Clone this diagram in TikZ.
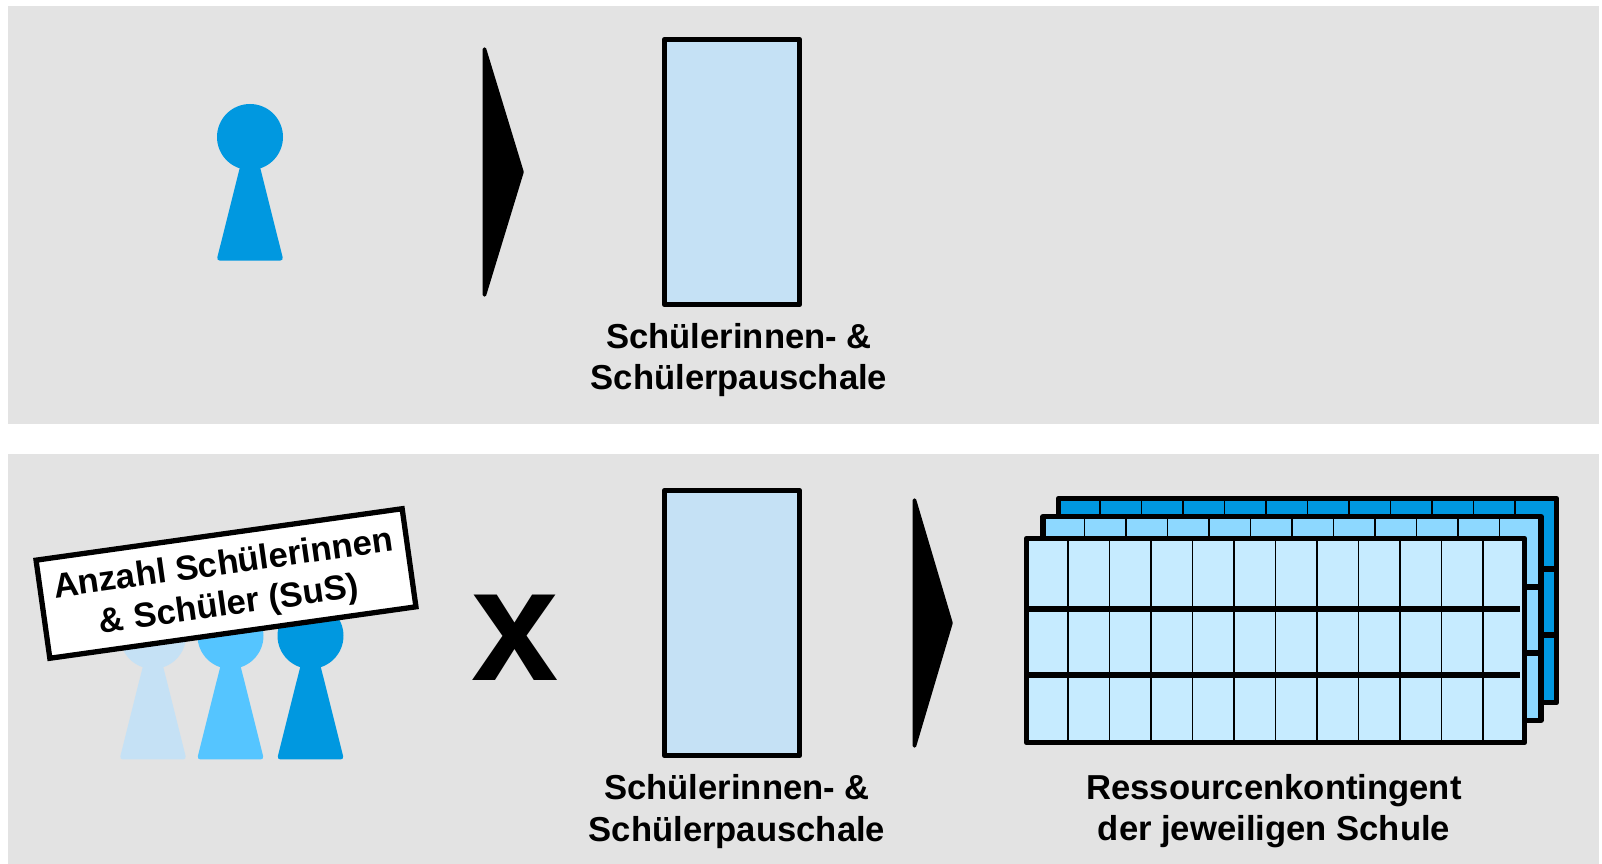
\documentclass[tikz,border=0pt]{standalone}
\usepackage{fontspec}
\setmainfont{Liberation Sans}
\definecolor{panelgray}{HTML}{E3E3E3}
\definecolor{palepawn}{HTML}{C5E1F5}
\definecolor{midpawn}{HTML}{55C5FF}
\definecolor{darkpawn}{HTML}{0098E0}
\definecolor{frontcell}{HTML}{C6EBFF}
\definecolor{middlecell}{HTML}{8DD8FF}
\tikzset{
	panel/.style={fill=panelgray},
	pausch/.style={draw=black, fill=palepawn, line width=1.55pt, line join=round},
	chevron/.style={draw=black, fill=black, line width=1pt, line join=round},
	caption/.style={align=center, font=\fontsize{9.85}{11.7}\selectfont\bfseries, inner sep=0pt},
	sheet/.style={draw=black, line width=1.5pt, line join=round},
	pawn/.pic={
		\fill[pic actions] (0,0) circle[radius=33];
		\fill[pic actions, rounded corners=1pt] (-9.5,28) -- (9.5,28) -- (33.5,123.7) -- (-33.5,123.7) -- cycle;
	}
}
\newcommand{\gridsheet}[4]{
	\fill[#3] (#1,#2) rectangle ++(498,204);
	\foreach \col in {1,...,11}
		\draw[line width=.55pt] ({#1+\col*41.5},#2) -- ++(0,204);
	\draw[line width=1.5pt] (#1,{#2+70.5}) -- ++(#4,0);
	\draw[line width=1.5pt] (#1,{#2+136.5}) -- ++(#4,0);
	\draw[sheet] (#1,#2) rectangle ++(498,204);
}
\begin{document}
\begin{tikzpicture}[x=0.01cm, y=-0.01cm]
	\useasboundingbox (0,0) rectangle (1602,864);
	\fill[white] (0,0) rectangle (1602,864);
	\fill[panel] (8,6) rectangle (1599,424);
	\fill[panel] (8,454.5) rectangle (1599,864);

	\pic[fill=darkpawn] (pawnone) at (250,137) {pawn};
	\draw[chevron] (484.5,49) -- (522,172) -- (484.5,295) -- cycle;
	\draw[pausch] (664.5,39.5) rectangle (799.5,304.5);
	\node[caption] (labelone) at (739,360) {Schülerinnen- \&\\Schülerpauschale};

	\pic[fill=palepawn] (pawnpale) at (153,635.8) {pawn};
	\pic[fill=midpawn] (pawnmid) at (230.5,635.8) {pawn};
	\pic[fill=darkpawn] (pawndark) at (310.5,635.8) {pawn};
	\node[draw=black, fill=white, line width=1.5pt, rotate=8, minimum width=3.695cm, minimum height=.99cm, caption] (sign) at (226,583.5) {\rule{0pt}{8.6pt}Anzahl Schülerinnen\\\& Schüler (SuS)};

	\node[inner sep=0pt, anchor=base, xscale=.97, font=\fontsize{46}{46}\selectfont\bfseries] (times) at (515,681) {x};

	\draw[pausch] (664.5,490.5) rectangle (799.5,755.5);
	\node[caption] (labeltwo) at (737,811.5) {Schülerinnen- \&\\Schülerpauschale};
	\draw[chevron] (914.5,500) -- (951,623) -- (914.5,746) -- cycle;

	\gridsheet{1058.5}{498.5}{darkpawn}{498}
	\gridsheet{1043}{516.5}{middlecell}{498}
	\gridsheet{1026.5}{538.5}{frontcell}{493}
	\node[caption] (labelthree) at (1274,811.5) {Ressourcenkontingent\\der jeweiligen Schule};
\end{tikzpicture}
\end{document}
